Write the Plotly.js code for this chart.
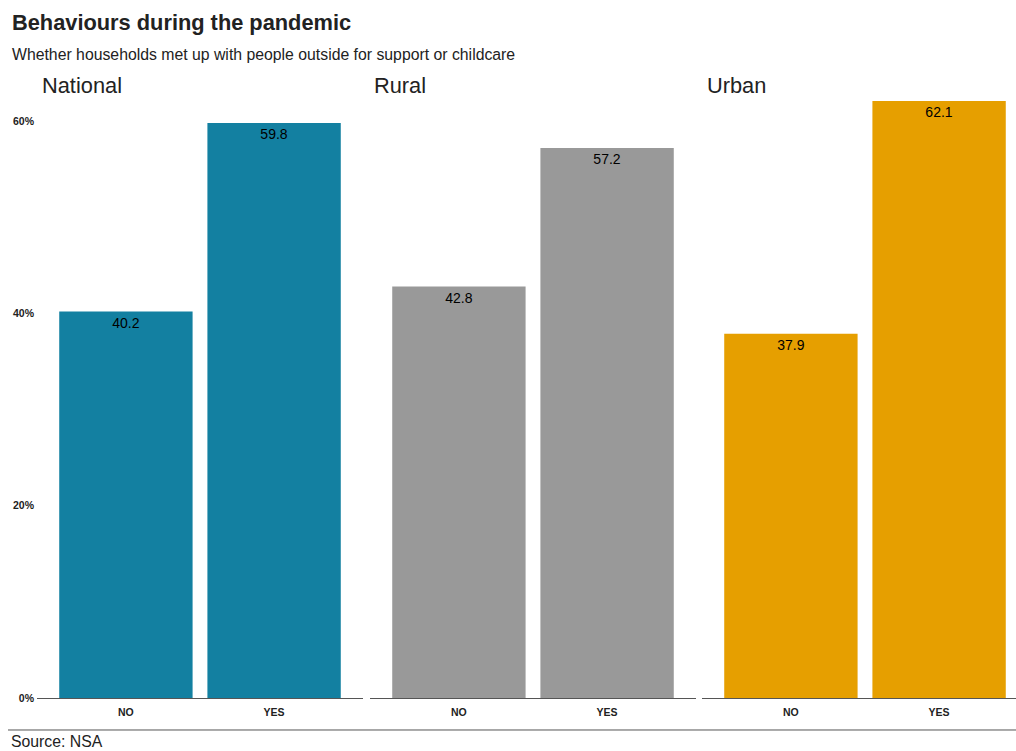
<!DOCTYPE html>
<html>
<head>
<meta charset="utf-8">
<script src="https://cdn.plot.ly/plotly-3.0.1.min.js"></script>
<style>
  html, body { margin: 0; padding: 0; background: #ffffff; }
  #chart { width: 1016px; height: 751px; }
</style>
</head>
<body>
<div id="chart"></div>
<script>
// Share of households that met up with people outside for support or childcare
const panels = ["National", "Rural", "Urban"];
const answers = ["NO", "YES"];
const nationalValues = [40.2, 59.8];
const ruralValues = [42.8, 57.2];
const urbanValues = [37.9, 62.1];
const panelColors = ["#1380A1", "#999999", "#E69F00"];
const yTicks = [0, 20, 40, 60];

const W = 1016, H = 751;
const M = { l: 37, r: 0, t: 100.8, b: 53 };
const PW = W - M.l - M.r, PH = H - M.t - M.b;
const px = x => (x - M.l) / PW;          // pixel -> paper x
const py = y => (H - M.b - y) / PH;      // pixel -> paper y

const FONT = "Liberation Sans, Arial, Helvetica, sans-serif";
const seriesValues = [nationalValues, ruralValues, urbanValues];
const axisIds = ["x", "x2", "x3"];

const traces = seriesValues.map((vals, i) => ({
  type: "bar",
  x: answers,
  y: vals,
  xaxis: axisIds[i],
  yaxis: "y",
  width: 0.9,
  marker: { color: panelColors[i], line: { width: 0 } },
  text: vals.map(v => v.toFixed(1)),
  texttemplate: "%{text}",
  textposition: "inside",
  insidetextanchor: "end",
  textangle: 0,
  textfont: { family: FONT, size: 14, color: "#000000" },
  cliponaxis: false,
  hoverinfo: "skip",
  showlegend: false
}));

const xBase = {
  type: "category",
  anchor: "y",
  showline: true,
  linecolor: "#555555",
  linewidth: 1.2,
  showgrid: false,
  zeroline: false,
  ticks: "",
  ticklabelstandoff: 4,
  tickfont: { family: FONT, size: 10.5, color: "#222222", weight: "bold" },
  fixedrange: true
};

const layout = {
  width: W,
  height: H,
  margin: M,
  paper_bgcolor: "#ffffff",
  plot_bgcolor: "#ffffff",
  bargap: 0.1,
  font: { family: FONT, color: "#222222" },
  xaxis: Object.assign({}, xBase, { domain: [0, px(363)], range: [-0.6, 1.6] }),
  xaxis2: Object.assign({}, xBase, { domain: [px(370), px(696)], range: [-0.6, 1.6] }),
  xaxis3: Object.assign({}, xBase, { domain: [px(702), 1], range: [-0.6, (1016 - 702) / ((363 - 37) / 2.2) - 0.6] }),
  yaxis: {
    range: [0, 62.1],
    tickvals: yTicks,
    ticktext: yTicks.map(v => v + "%"),
    showgrid: false,
    zeroline: false,
    showline: false,
    ticks: "",
    ticklabelstandoff: 2,
    tickfont: { family: FONT, size: 10.5, color: "#222222", weight: "bold" },
    fixedrange: true
  },
  annotations: [
    {
      text: "<b>Behaviours during the pandemic</b>",
      xref: "paper", yref: "paper", x: px(10), y: py(22),
      xanchor: "left", yanchor: "middle", showarrow: false,
      font: { family: FONT, size: 21.8, color: "#222222" }
    },
    {
      text: "Whether households met up with people outside for support or childcare",
      xref: "paper", yref: "paper", x: px(10), y: py(54),
      xanchor: "left", yanchor: "middle", showarrow: false,
      font: { family: FONT, size: 15.8, color: "#222222" }
    },
    ...panels.map((p, i) => ({
      text: p,
      xref: "paper", yref: "paper", x: px([40, 372, 705][i]), y: py(85),
      xanchor: "left", yanchor: "middle", showarrow: false,
      font: { family: FONT, size: 21.8, color: "#222222" }
    })),
    {
      text: "Source: NSA",
      xref: "paper", yref: "paper", x: px(9), y: py(742),
      xanchor: "left", yanchor: "middle", showarrow: false,
      font: { family: FONT, size: 15.8, color: "#222222" }
    }
  ],
  shapes: [
    {
      type: "line", xref: "paper", yref: "paper",
      x0: px(8), x1: px(1016), y0: py(730), y1: py(730),
      line: { color: "#555555", width: 1 }
    }
  ]
};

Plotly.newPlot("chart", traces, layout, { displayModeBar: false, staticPlot: true });
</script>
</body>
</html>
